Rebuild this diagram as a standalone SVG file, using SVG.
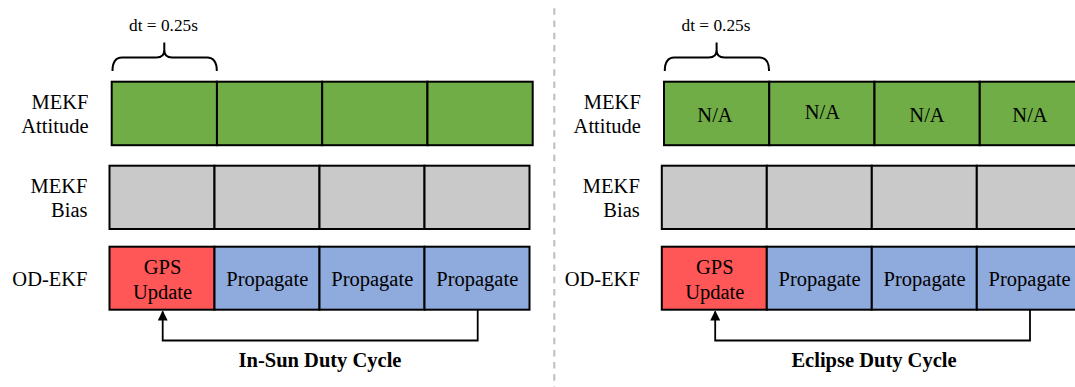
<svg xmlns="http://www.w3.org/2000/svg" width="1075" height="387" viewBox="0 0 1075 387">
  <style>
    text { font-family: "Liberation Serif", "Times New Roman", serif; font-size: 20.5px; fill: #000; }
    .lbl { text-anchor: end; }
    .mid { text-anchor: middle; }
    .dt { font-size: 17.3px; text-anchor: middle; }
    .title { font-weight: bold; text-anchor: middle; }
    .cell { stroke: #000; stroke-width: 2; }
    .att { fill: #70AD47; }
    .bias { fill: #C9C9C9; }
    .gps { fill: #FF5757; }
    .prop { fill: #8FAADC; }
    .brace { fill: none; stroke: #000; stroke-width: 2; }
    .link { fill: none; stroke: #000; stroke-width: 1.8; }
    .sep { stroke: #BDBDBD; stroke-width: 2; stroke-dasharray: 6.5 5.7; }
  </style>
  <defs>
    <marker id="head" viewBox="0 0 10 10" refX="9" refY="5" markerWidth="10" markerHeight="10" markerUnits="userSpaceOnUse" orient="auto">
      <path d="M0,0 L10,5 L0,10 Z" fill="#000"/>
    </marker>
  </defs>

  <!-- divider between the two duty cycles -->
  <line class="sep" x1="554.3" y1="8.3" x2="554.3" y2="387"/>

  <!-- ===== In-Sun duty cycle ===== -->
  <g id="insun">
    <g id="insun-dt">
      <text class="dt" x="163.5" y="30.7">dt = 0.25s</text>
      <path class="brace" d="M112.5,71 Q112.5,57.5 122,57.5 H156.5 Q164.3,57.5 164.3,50 V42.5 V50 Q164.3,57.5 172,57.5 H207 Q216.8,57.5 216.8,71"/>
    </g>
    <g id="insun-labels">
      <text class="lbl" x="88.5" y="108.8">MEKF</text>
      <text class="lbl" x="88.5" y="132.8">Attitude</text>
      <text class="lbl" x="87.5" y="192.5">MEKF</text>
      <text class="lbl" x="87.5" y="216.5">Bias</text>
      <text class="lbl" x="87.5" y="286">OD-EKF</text>
    </g>
    <g id="insun-att">
      <rect class="cell att" x="111.7" y="81.7" width="105.25" height="63.5"/>
      <rect class="cell att" x="216.95" y="81.7" width="105.25" height="63.5"/>
      <rect class="cell att" x="322.2" y="81.7" width="105.25" height="63.5"/>
      <rect class="cell att" x="427.45" y="81.7" width="105.25" height="63.5"/>
    </g>
    <g id="insun-bias">
      <rect class="cell bias" x="109.5" y="165.7" width="105" height="63.3"/>
      <rect class="cell bias" x="214.5" y="165.7" width="105" height="63.3"/>
      <rect class="cell bias" x="319.5" y="165.7" width="105" height="63.3"/>
      <rect class="cell bias" x="424.5" y="165.7" width="105" height="63.3"/>
    </g>
    <g id="insun-gps">
      <rect class="cell gps" x="109.5" y="246.7" width="105" height="63"/>
      <text class="mid" x="162.5" y="274">GPS</text>
      <text class="mid" x="162.5" y="298.5">Update</text>
    </g>
    <g id="insun-prop1">
      <rect class="cell prop" x="214.5" y="246.7" width="105" height="63"/>
      <text class="mid" x="267.3" y="286">Propagate</text>
    </g>
    <g id="insun-prop2">
      <rect class="cell prop" x="319.5" y="246.7" width="105" height="63"/>
      <text class="mid" x="372.3" y="286">Propagate</text>
    </g>
    <g id="insun-prop3">
      <rect class="cell prop" x="424.5" y="246.7" width="105" height="63"/>
      <text class="mid" x="477.3" y="286">Propagate</text>
    </g>
    <text class="title" x="320" y="366.7">In-Sun Duty Cycle</text>
  </g>

  <!-- ===== Eclipse duty cycle ===== -->
  <g id="eclipse">
    <g id="eclipse-dt">
      <text class="dt" x="716" y="30.7">dt = 0.25s</text>
      <path class="brace" d="M664.8,71 Q664.8,57.5 674.3,57.5 H708.8 Q716.6,57.5 716.6,50 V42.5 V50 Q716.6,57.5 724.3,57.5 H759.3 Q769.1,57.5 769.1,71"/>
    </g>
    <g id="eclipse-labels">
      <text class="lbl" x="640.8" y="108.8">MEKF</text>
      <text class="lbl" x="640.8" y="132.8">Attitude</text>
      <text class="lbl" x="639.8" y="192.5">MEKF</text>
      <text class="lbl" x="639.8" y="216.5">Bias</text>
      <text class="lbl" x="639.8" y="286">OD-EKF</text>
    </g>
    <g id="eclipse-att1">
      <rect class="cell att" x="664" y="81.7" width="105.25" height="63.5"/>
      <text class="mid" x="715" y="121.8">N/A</text>
    </g>
    <g id="eclipse-att2">
      <rect class="cell att" x="769.25" y="81.7" width="105.25" height="63.5"/>
      <text class="mid" x="822.3" y="119.3">N/A</text>
    </g>
    <g id="eclipse-att3">
      <rect class="cell att" x="874.5" y="81.7" width="105.25" height="63.5"/>
      <text class="mid" x="927" y="121.8">N/A</text>
    </g>
    <g id="eclipse-att4">
      <rect class="cell att" x="979.75" y="81.7" width="105.25" height="63.5"/>
      <text class="mid" x="1030" y="121.8">N/A</text>
    </g>
    <g id="eclipse-bias">
      <rect class="cell bias" x="661.8" y="165.7" width="105" height="63.3"/>
      <rect class="cell bias" x="766.8" y="165.7" width="105" height="63.3"/>
      <rect class="cell bias" x="871.8" y="165.7" width="105" height="63.3"/>
      <rect class="cell bias" x="976.8" y="165.7" width="105" height="63.3"/>
    </g>
    <g id="eclipse-gps">
      <rect class="cell gps" x="661.8" y="246.7" width="105" height="63"/>
      <text class="mid" x="714.8" y="274">GPS</text>
      <text class="mid" x="714.8" y="298.5">Update</text>
    </g>
    <g id="eclipse-prop1">
      <rect class="cell prop" x="766.8" y="246.7" width="105" height="63"/>
      <text class="mid" x="819.6" y="286">Propagate</text>
    </g>
    <g id="eclipse-prop2">
      <rect class="cell prop" x="871.8" y="246.7" width="105" height="63"/>
      <text class="mid" x="924.6" y="286">Propagate</text>
    </g>
    <g id="eclipse-prop3">
      <rect class="cell prop" x="976.8" y="246.7" width="105" height="63"/>
      <text class="mid" x="1029.6" y="286">Propagate</text>
    </g>
    <text class="title" x="874" y="366.7">Eclipse Duty Cycle</text>
  </g>

  <!-- feedback loops: last propagate step back to the next GPS update -->
  <g id="connectors">
    <path class="link" d="M477.7,310 V340.5 H162.7 V311.5" marker-end="url(#head)"/>
    <path class="link" d="M1030,310 V340.5 H715.2 V311.5" marker-end="url(#head)"/>
  </g>
</svg>
